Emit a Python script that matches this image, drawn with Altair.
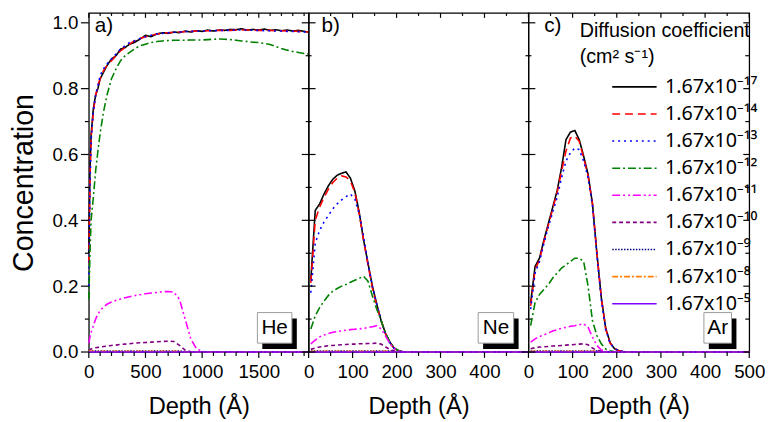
import altair as alt
import pandas as pd

FONT = "Liberation Sans"

series = ["1.67x10⁻¹⁷", "1.67x10⁻¹⁴", "1.67x10⁻¹³", "1.67x10⁻¹²", "1.67x10⁻¹¹",
          "1.67x10⁻¹⁰", "1.67x10⁻⁹", "1.67x10⁻⁸", "1.67x10⁻⁵"]
colors = ["#000000", "#ff0000", "#0000ff", "#008000", "#ff00ff",
          "#800080", "#000080", "#ff8000", "#8000ff"]
dashes = [[1, 0], [8, 5], [2, 4], [8, 3, 2, 3], [8, 3, 2, 3, 2, 3],
          [4, 3], [1.5, 1.5], [6, 2, 2, 2], [1, 0]]

# ---- panel a (He) ----
depth_a = [0, 10, 20, 40, 60, 80, 100, 130, 160, 200, 240, 280, 320, 360, 400, 450, 500, 550,
           600, 650, 700, 750, 800, 850, 900, 950, 1000, 1050, 1100, 1150, 1200, 1250, 1300,
           1350, 1400, 1450, 1500, 1550, 1600, 1650, 1700, 1750, 1800, 1850, 1900, 1940]
he_17 = [0.30, 0.55, 0.66, 0.74, 0.78, 0.80, 0.83, 0.85, 0.87, 0.89, 0.90, 0.92, 0.925, 0.935,
         0.94, 0.95, 0.962, 0.958, 0.966, 0.970, 0.968, 0.972, 0.970, 0.975, 0.972, 0.976, 0.974,
         0.978, 0.975, 0.978, 0.977, 0.980, 0.979, 0.982, 0.978, 0.980, 0.978, 0.981, 0.977,
         0.979, 0.976, 0.978, 0.975, 0.977, 0.974, 0.972]
he_14 = [0.27, 0.52, 0.65, 0.73, 0.78, 0.81, 0.83, 0.855, 0.87, 0.885, 0.90, 0.915, 0.925, 0.935,
         0.945, 0.952, 0.958, 0.962, 0.966, 0.968, 0.970, 0.971, 0.972, 0.973, 0.974, 0.975, 0.975,
         0.976, 0.976, 0.977, 0.977, 0.977, 0.978, 0.978, 0.978, 0.978, 0.977, 0.977, 0.977,
         0.976, 0.976, 0.975, 0.975, 0.974, 0.973, 0.972]
he_13 = [0.20, 0.50, 0.64, 0.73, 0.78, 0.81, 0.84, 0.86, 0.875, 0.89, 0.905, 0.92, 0.93, 0.94,
         0.945, 0.952, 0.958, 0.962, 0.966, 0.968, 0.970, 0.971, 0.972, 0.973, 0.974, 0.975, 0.975,
         0.976, 0.976, 0.977, 0.977, 0.977, 0.978, 0.978, 0.978, 0.977, 0.977, 0.976, 0.976,
         0.975, 0.975, 0.974, 0.974, 0.973, 0.972, 0.971]
he_12 = [0.16, 0.30, 0.40, 0.47, 0.55, 0.61, 0.665, 0.73, 0.78, 0.83, 0.86, 0.885, 0.90, 0.91,
         0.92, 0.93, 0.935, 0.94, 0.943, 0.945, 0.946, 0.947, 0.947, 0.947, 0.948, 0.948, 0.948,
         0.949, 0.950, 0.951, 0.950, 0.949, 0.947, 0.945, 0.943, 0.941, 0.940, 0.937, 0.934,
         0.928, 0.922, 0.917, 0.913, 0.910, 0.907, 0.905]
he_11 = [0.027, 0.045, 0.06, 0.08, 0.10, 0.115, 0.126, 0.137, 0.145, 0.152, 0.157, 0.161, 0.165,
         0.168, 0.171, 0.174, 0.177, 0.179, 0.181, 0.183, 0.184, 0.182, 0.16, 0.10, 0.04, 0.01,
         0.002, 0, 0, 0, 0, 0, 0, 0, 0, 0, 0, 0, 0, 0, 0, 0, 0, 0, 0, 0]
he_10 = [0.005, 0.007, 0.009, 0.011, 0.013, 0.014, 0.015, 0.017, 0.018, 0.020, 0.021, 0.023,
         0.024, 0.025, 0.027, 0.028, 0.029, 0.030, 0.031, 0.032, 0.033, 0.032, 0.020, 0.006,
         0.001, 0, 0, 0, 0, 0, 0, 0, 0, 0, 0, 0, 0, 0, 0, 0, 0, 0, 0, 0, 0, 0]
he_9 = [0.002, 0.003, 0.003, 0.003, 0.003, 0.003, 0.003, 0.003, 0.003, 0.003, 0.003, 0.003,
        0.003, 0.003, 0.003, 0.003, 0.003, 0.003, 0.003, 0.003, 0.003, 0.003, 0.003, 0.001,
        0, 0, 0, 0, 0, 0, 0, 0, 0, 0, 0, 0, 0, 0, 0, 0, 0, 0, 0, 0, 0, 0]
he_8 = [0.004, 0.003, 0.002, 0.002, 0.002, 0.002, 0.002, 0.002, 0.002, 0.002, 0.002, 0.002,
        0.002, 0.002, 0.002, 0.002, 0.002, 0.002, 0.002, 0.002, 0.002, 0.002, 0.002, 0,
        0, 0, 0, 0, 0, 0, 0, 0, 0, 0, 0, 0, 0, 0, 0, 0, 0, 0, 0, 0, 0, 0]
he_5 = [0, 0, 0, 0, 0, 0, 0, 0, 0, 0, 0, 0, 0, 0, 0, 0, 0, 0, 0, 0, 0, 0, 0,
        0, 0, 0, 0, 0, 0, 0, 0, 0, 0, 0, 0, 0, 0, 0, 0, 0, 0, 0, 0, 0, 0, 0]

# ---- panels b (Ne) and c (Ar) ----
depth_bc = [5, 15, 25, 35, 45, 55, 65, 75, 85, 95, 105, 115, 125, 135, 145, 155, 165, 175,
            185, 195, 205, 215, 230, 260, 300, 350, 400, 450, 500]
ne_17 = [0.22, 0.43, 0.45, 0.48, 0.505, 0.525, 0.537, 0.543, 0.547, 0.528, 0.49, 0.425, 0.34,
         0.27, 0.20, 0.145, 0.095, 0.056, 0.03, 0.011, 0.004, 0.001, 0, 0, 0, 0, 0, 0, 0]
ne_14 = [0.21, 0.40, 0.44, 0.47, 0.495, 0.515, 0.528, 0.535, 0.532, 0.52, 0.485, 0.42, 0.34,
         0.265, 0.195, 0.14, 0.095, 0.055, 0.028, 0.01, 0.003, 0.001, 0, 0, 0, 0, 0, 0, 0]
ne_13 = [0.18, 0.33, 0.37, 0.395, 0.415, 0.435, 0.45, 0.462, 0.472, 0.48, 0.465, 0.42, 0.35,
         0.27, 0.20, 0.145, 0.095, 0.055, 0.028, 0.01, 0.003, 0.001, 0, 0, 0, 0, 0, 0, 0]
ne_12 = [0.07, 0.11, 0.135, 0.155, 0.172, 0.185, 0.193, 0.20, 0.205, 0.212, 0.218, 0.224, 0.23,
         0.215, 0.17, 0.13, 0.095, 0.056, 0.03, 0.012, 0.004, 0.001, 0, 0, 0, 0, 0, 0, 0]
ne_11 = [0.025, 0.036, 0.046, 0.052, 0.056, 0.06, 0.062, 0.064, 0.066, 0.068, 0.069, 0.07, 0.072,
         0.074, 0.077, 0.08, 0.07, 0.048, 0.025, 0.01, 0.003, 0, 0, 0, 0, 0, 0, 0, 0]
ne_10 = [0.008, 0.012, 0.015, 0.017, 0.019, 0.02, 0.021, 0.022, 0.023, 0.024, 0.024, 0.025, 0.025,
         0.026, 0.026, 0.027, 0.024, 0.015, 0.008, 0.003, 0.001, 0, 0, 0, 0, 0, 0, 0, 0]
ne_9 = [0.003, 0.003, 0.003, 0.003, 0.003, 0.003, 0.003, 0.003, 0.003, 0.003, 0.003, 0.003, 0.003,
        0.003, 0.003, 0.003, 0.003, 0.003, 0.003, 0.001, 0, 0, 0, 0, 0, 0, 0, 0, 0]
ne_8 = [0.002, 0.002, 0.002, 0.002, 0.002, 0.002, 0.002, 0.002, 0.002, 0.002, 0.002, 0.002, 0.002,
        0.002, 0.002, 0.002, 0.002, 0.002, 0.002, 0, 0, 0, 0, 0, 0, 0, 0, 0, 0]
ne_5 = [0, 0, 0, 0, 0, 0, 0, 0, 0, 0, 0, 0, 0, 0, 0, 0, 0, 0, 0, 0, 0, 0, 0, 0, 0, 0, 0, 0, 0]

ar_17 = [0.15, 0.26, 0.285, 0.34, 0.39, 0.44, 0.49, 0.56, 0.645, 0.668, 0.673, 0.645, 0.595,
         0.54, 0.45, 0.30, 0.165, 0.072, 0.028, 0.01, 0.004, 0.001, 0, 0, 0, 0, 0, 0, 0]
ar_14 = [0.14, 0.25, 0.28, 0.335, 0.385, 0.435, 0.485, 0.55, 0.61, 0.65, 0.656, 0.64, 0.59,
         0.535, 0.45, 0.30, 0.165, 0.07, 0.027, 0.01, 0.004, 0.001, 0, 0, 0, 0, 0, 0, 0]
ar_13 = [0.13, 0.24, 0.275, 0.33, 0.38, 0.425, 0.47, 0.53, 0.58, 0.605, 0.62, 0.615, 0.58,
         0.53, 0.445, 0.295, 0.16, 0.068, 0.026, 0.01, 0.004, 0.001, 0, 0, 0, 0, 0, 0, 0]
ar_12 = [0.08, 0.15, 0.175, 0.19, 0.205, 0.225, 0.24, 0.255, 0.265, 0.275, 0.285, 0.285, 0.275,
         0.20, 0.095, 0.05, 0.025, 0.009, 0.004, 0.001, 0, 0, 0, 0, 0, 0, 0, 0, 0]
ar_11 = [0.03, 0.04, 0.047, 0.052, 0.058, 0.064, 0.068, 0.072, 0.075, 0.078, 0.08, 0.083, 0.086,
         0.075, 0.045, 0.02, 0.006, 0.002, 0, 0, 0, 0, 0, 0, 0, 0, 0, 0, 0]
ar_10 = [0.01, 0.013, 0.015, 0.016, 0.017, 0.018, 0.019, 0.02, 0.021, 0.022, 0.023, 0.024, 0.025,
         0.022, 0.012, 0.005, 0.002, 0, 0, 0, 0, 0, 0, 0, 0, 0, 0, 0, 0]
ar_9 = [0.003, 0.003, 0.003, 0.003, 0.003, 0.003, 0.003, 0.003, 0.003, 0.003, 0.003, 0.003, 0.003,
        0.003, 0.003, 0.003, 0.001, 0, 0, 0, 0, 0, 0, 0, 0, 0, 0, 0, 0]
ar_8 = [0.002, 0.002, 0.002, 0.002, 0.002, 0.002, 0.002, 0.002, 0.002, 0.002, 0.002, 0.002, 0.002,
        0.002, 0.002, 0.002, 0, 0, 0, 0, 0, 0, 0, 0, 0, 0, 0, 0, 0]
ar_5 = [0, 0, 0, 0, 0, 0, 0, 0, 0, 0, 0, 0, 0, 0, 0, 0, 0, 0, 0, 0, 0, 0, 0, 0, 0, 0, 0, 0, 0]

panel_tags = ["a)", "b)", "c)"]
elements = ["He", "Ne", "Ar"]

x_major_a = [0, 500, 1000, 1500]
x_minor_a = [100, 200, 300, 400, 600, 700, 800, 900, 1100, 1200, 1300, 1400, 1600, 1700, 1800, 1900]
x_major_b = [0, 100, 200, 300, 400]
x_major_c = [0, 100, 200, 300, 400, 500]
x_minor_bc = [50, 150, 250, 350, 450]
y_major = [0.0, 0.2, 0.4, 0.6, 0.8, 1.0]
y_minor = [0.1, 0.3, 0.5, 0.7, 0.9]

H = 344
Y_DOMAIN = [0, 1.03]

legend = alt.Legend(
    orient="none", legendX=498, legendY=8,
    title=["Diffusion coefficient", "(cm² s⁻¹)"],
    titleFontSize=20, titleFontWeight="normal", titleLineHeight=27, titlePadding=10,
    titleLimit=400, labelFontSize=20, labelLimit=300, labelFont="Noto Sans",
    symbolType="M-3,0H3", symbolSize=225, symbolStrokeWidth=1.6,
    symbolOffset=45.5, labelOffset=21, rowPadding=7.5, padding=0, offset=0,
)


def make_panel(depths, concs, xdom, xmaj, xmin, width, idx, tag_x, box_x, box_w):
    rows = []
    for s, vals in zip(series, concs):
        for d, c in zip(depths, vals):
            rows.append({"series": s, "depth": d, "conc": c})
    df = pd.DataFrame(rows)
    xs = alt.Scale(domain=xdom, nice=False, zero=False)
    ys = alt.Scale(domain=Y_DOMAIN, nice=False, zero=False)
    if idx == 0:
        yaxis = alt.Axis(values=y_major, format=".1f", ticks=False, domain=False, grid=False,
                         labelFontSize=19, labelPadding=11, labelFlush=False,
                         title="Concentration", titleFontSize=29, titleFontWeight="normal",
                         titlePadding=14)
    else:
        yaxis = None
    xaxis = alt.Axis(values=xmaj, format="d", ticks=False, domain=False, grid=False,
                     labelFontSize=19, labelPadding=11, labelFlush=False,
                     title="Depth (Å)", titleFontSize=24, titleFontWeight="normal",
                     titlePadding=13)

    lines = alt.Chart(df).mark_line(strokeWidth=1.6).encode(
        x=alt.X("depth:Q", scale=xs, axis=xaxis, title="Depth (Å)"),
        y=alt.Y("conc:Q", scale=ys, axis=yaxis, title="Concentration"),
        color=alt.Color("series:N", scale=alt.Scale(domain=series, range=colors), legend=legend),
        strokeDash=alt.StrokeDash("series:N", scale=alt.Scale(domain=series, range=dashes),
                                  legend=legend),
    )
    layers = [lines]
    xmaj_df = pd.DataFrame({"v": xmaj})
    xmin_df = pd.DataFrame({"v": xmin})
    ymaj_df = pd.DataFrame({"v": y_major})
    ymin_df = pd.DataFrame({"v": y_minor})

    def xrule(d, y1, y2):
        return alt.Chart(d).mark_rule(color="black", strokeWidth=1.2).encode(
            x=alt.X("v:Q", scale=xs, axis=xaxis, title="Depth (Å)"),
            y=alt.value(y1), y2=alt.value(y2))

    def yrule(d, x1, x2):
        return alt.Chart(d).mark_rule(color="black", strokeWidth=1.2).encode(
            y=alt.Y("v:Q", scale=ys, axis=yaxis, title="Concentration"),
            x=alt.value(x1), x2=alt.value(x2))

    layers += [xrule(xmaj_df, H, H + 6), xrule(xmin_df, H, H + 4),
               xrule(xmaj_df, 0, 5), xrule(xmin_df, 0, 3)]
    if idx == 0:
        layers += [yrule(ymaj_df, -8, 0), yrule(ymin_df, -4, 0)]
    else:
        layers += [yrule(ymaj_df, -7, 7), yrule(ymin_df, -3, 3)]
    if idx == 2:
        layers += [yrule(ymaj_df, width - 6, width), yrule(ymin_df, width - 4, width)]

    tag_df = pd.DataFrame({"t": [panel_tags[idx]]})
    layers.append(alt.Chart(tag_df).mark_text(align="left", baseline="middle", fontSize=21,
                                              font=FONT, color="black").encode(
        x=alt.value(tag_x), y=alt.value(13), text="t:N"))
    el_df = pd.DataFrame({"t": [elements[idx]]})
    layers.append(alt.Chart(el_df).mark_rect(color="black").encode(
        x=alt.value(box_x + 5), x2=alt.value(box_x + box_w + 5),
        y=alt.value(310), y2=alt.value(341)))
    layers.append(alt.Chart(el_df).mark_rect(fill="white", stroke="#9a9a9a", strokeWidth=1).encode(
        x=alt.value(box_x), x2=alt.value(box_x + box_w),
        y=alt.value(304), y2=alt.value(335)))
    layers.append(alt.Chart(el_df).mark_text(align="center", baseline="middle", fontSize=21,
                                             font=FONT, color="black").encode(
        x=alt.value(box_x + box_w / 2), y=alt.value(320), text="t:N"))
    return alt.layer(*layers).properties(width=width, height=H)


pa = make_panel(depth_a, [he_17, he_14, he_13, he_12, he_11, he_10, he_9, he_8, he_5],
                [0, 1940], x_major_a, x_minor_a, 223, 0, 6, 171, 35)
pb = make_panel(depth_bc, [ne_17, ne_14, ne_13, ne_12, ne_11, ne_10, ne_9, ne_8, ne_5],
                [0, 500], x_major_b, x_minor_bc, 223, 1, 13, 172, 36)
pc = make_panel(depth_bc, [ar_17, ar_14, ar_13, ar_12, ar_11, ar_10, ar_9, ar_8, ar_5],
                [0, 500], x_major_c, x_minor_bc, 224, 2, 16, 178, 28)

chart = alt.hconcat(pa, pb, pc, spacing=0, bounds="flush").properties(
    padding={"left": 0, "top": 0, "right": 0, "bottom": 0}
).configure_view(stroke="black", strokeWidth=1.3).configure_axis(
    labelFont=FONT, titleFont=FONT, labelColor="black", titleColor="black"
).configure_legend(titleFont=FONT, labelColor="black", titleColor="black"
).configure_text(font=FONT)

chart.save("out.html", embed_options={"renderer": "svg", "actions": False})
